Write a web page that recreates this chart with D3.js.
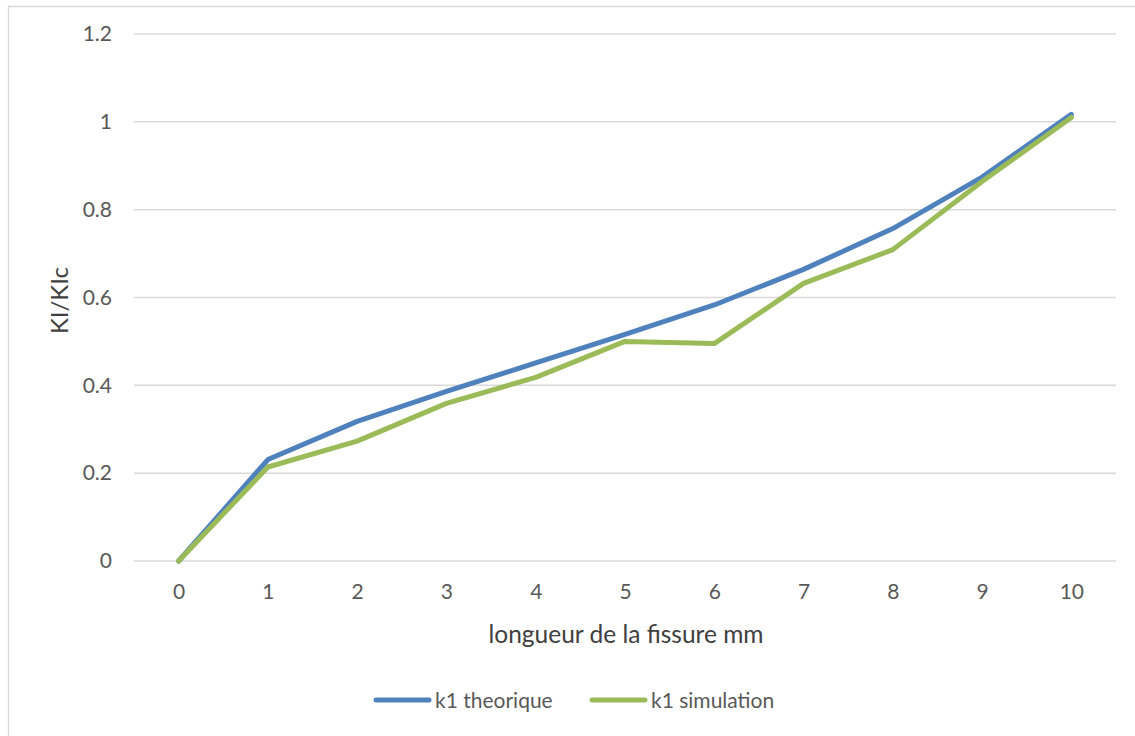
<!DOCTYPE html>
<html>
<head>
<meta charset="utf-8">
<script src="https://cdn.jsdelivr.net/npm/d3@7"></script>
<style>
  html, body { margin: 0; padding: 0; background: #fff; }
  svg { display: block; font-family: Lato, "Open Sans", sans-serif; }
</style>
</head>
<body>
<svg id="chart" width="1135" height="736"></svg>
<script>
// Crack length (mm) and normalised stress intensity factor KI/KIc
const categories = [0, 1, 2, 3, 4, 5, 6, 7, 8, 9, 10];
const k1Theorique = [0, 0.231, 0.318, 0.386, 0.451, 0.516, 0.583, 0.664, 0.757, 0.874, 1.017];
const k1Simulation = [0, 0.214, 0.273, 0.359, 0.418, 0.500, 0.495, 0.632, 0.709, 0.864, 1.010];
const yTicks = [0, 0.2, 0.4, 0.6, 0.8, 1, 1.2];

const series = [
  { name: "k1 theorique", values: k1Theorique, color: "#4F81BD" },
  { name: "k1 simulation", values: k1Simulation, color: "#9BBB59" }
];

const svg = d3.select("#chart");
const W = 1135, H = 736;
const m = { left: 134, right: 1116, top: 34, bottom: 561 };
const FONT = "Lato, 'Open Sans', sans-serif";

// outer chart frame
svg.append("rect")
  .attr("x", 8.5).attr("y", 6.5)
  .attr("width", W + 10).attr("height", H + 10)
  .attr("fill", "#fff").attr("stroke", "#d9d9d9").attr("stroke-width", 1.5);

const x = d3.scalePoint().domain(categories).range([m.left, m.right]).padding(0.5);
const y = d3.scaleLinear().domain([0, 1.2]).range([m.bottom, m.top]);

// horizontal gridlines
svg.append("g").selectAll("line").data(yTicks).join("line")
  .attr("x1", m.left).attr("x2", m.right)
  .attr("y1", d => y(d)).attr("y2", d => y(d))
  .attr("stroke", "#d9d9d9").attr("stroke-width", 1.5);

// y axis labels
const yAxis = d3.axisLeft(y).tickValues(yTicks).tickSize(0).tickPadding(0)
  .tickFormat(d => String(+d.toFixed(1)));
const gy = svg.append("g").attr("transform", `translate(${m.left - 22},0)`).call(yAxis);
gy.select(".domain").remove();
gy.selectAll("text").attr("font-size", 21).attr("fill", "#595959").attr("font-family", FONT);

// x axis labels
const xAxis = d3.axisBottom(x).tickSize(0).tickPadding(0);
const gx = svg.append("g").attr("transform", `translate(0,${m.bottom + 23})`).call(xAxis);
gx.select(".domain").remove();
gx.selectAll("text").attr("font-size", 21).attr("fill", "#595959").attr("font-family", FONT);

// axis titles
svg.append("text")
  .attr("x", (m.left + m.right) / 2 + 1).attr("y", 643)
  .attr("text-anchor", "middle").attr("font-size", 24.5).attr("fill", "#404040")
  .text("longueur de la fissure mm");

svg.append("text")
  .attr("transform", `translate(68,${(m.top + m.bottom) / 2 + 3}) rotate(-90)`)
  .attr("text-anchor", "middle").attr("font-size", 24).attr("fill", "#404040")
  .text("KI/KIc");

// series lines
const line = d3.line().x((d, i) => x(categories[i])).y(d => y(d));
svg.append("g").selectAll("path").data(series).join("path")
  .attr("d", s => line(s.values))
  .attr("fill", "none")
  .attr("stroke", s => s.color)
  .attr("stroke-width", 5)
  .attr("stroke-linejoin", "round")
  .attr("stroke-linecap", "round");

// legend
const legendX = [376, 592];
const lg = svg.append("g").selectAll("g").data(series).join("g")
  .attr("transform", (s, i) => `translate(${legendX[i]},700)`);
lg.append("line")
  .attr("x1", 0).attr("x2", 53).attr("y1", 0).attr("y2", 0)
  .attr("stroke", s => s.color).attr("stroke-width", 5).attr("stroke-linecap", "round");
lg.append("text")
  .attr("x", 59).attr("y", 8)
  .attr("font-size", 21).attr("fill", "#595959")
  .text(s => s.name);
</script>
</body>
</html>
